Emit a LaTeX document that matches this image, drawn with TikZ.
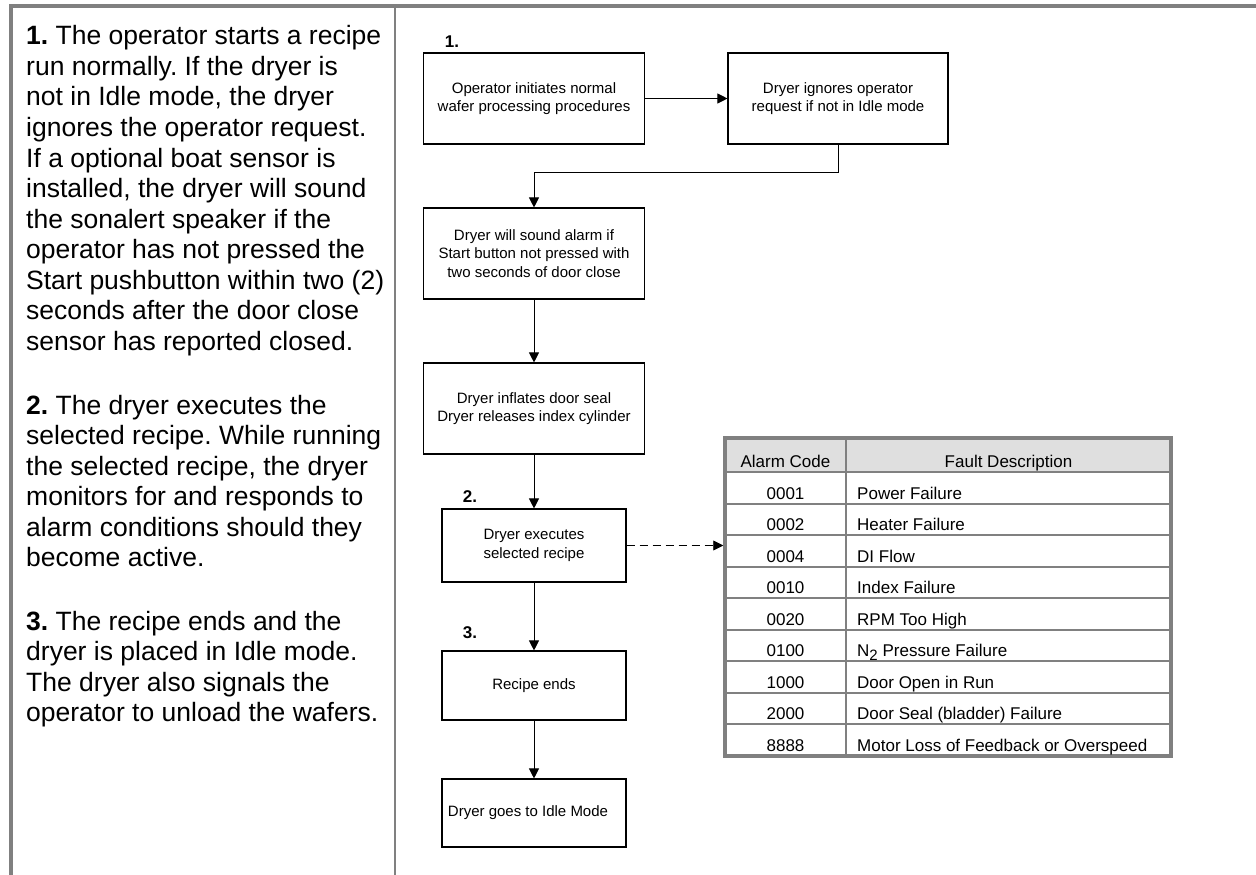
\documentclass[tikz,border=0pt]{standalone}
\usepackage{fontspec}
\setmainfont{Liberation Sans}
\usetikzlibrary{arrows.meta}
\frenchspacing

\definecolor{rulegray}{HTML}{808080}
\definecolor{headfill}{HTML}{DFDFDF}

\tikzset{
  frame/.style={draw=rulegray, line width=4pt},
  divider/.style={draw=rulegray, line width=2.5pt},
  bodytext/.style={inner sep=0pt, anchor=base west, font=\fontsize{26.5}{30.5}\selectfont},
  stepbox/.style={draw, line width=1.1pt, inner sep=0pt, align=center,
                  font=\fontsize{15}{18.5}\selectfont},
  steplabel/.style={inner sep=0pt, font=\bfseries\fontsize{17}{17}\selectfont},
  arr/.style={line width=0.9pt, -{Triangle[length=10pt,width=10pt]}},
  cell/.style={inner sep=0pt, anchor=base, font=\fontsize{17}{17}\selectfont},
  celltext/.style={inner sep=0pt, anchor=base west, font=\fontsize{17}{17}\selectfont},
  tblline/.style={draw=rulegray, line width=2pt},
  tblframe/.style={draw=rulegray, line width=3.5pt, inner sep=0pt,
                   minimum width=446pt, minimum height=318pt},
}

\begin{document}
\begin{tikzpicture}[x=1pt, y=-1pt]
\useasboundingbox (0,0) rectangle (1256,875);
\fill[white] (0,0) rectangle (1256,875);

% page frame and column divider
\draw[frame] (11,875) -- (11,6) -- (1256,6);
\draw[divider] (395,6) -- (395,875);

% description column
\foreach \t [count=\i from 0] in {
  {\textbf{1.} The operator starts a recipe},
  {run normally. If the dryer is},
  {not in Idle mode, the dryer},
  {ignores the operator request.},
  {If a optional boat sensor is},
  {installed, the dryer will sound},
  {the sonalert speaker if the},
  {operator has not pressed the},
  {Start pushbutton within two (2)},
  {seconds after the door close},
  {sensor has reported closed.}}
  \node[bodytext] (pa\i) at (26, 45+30.5*\i) {\t};

\foreach \t [count=\i from 0] in {
  {\textbf{2.} The dryer executes the},
  {selected recipe. While running},
  {the selected recipe, the dryer},
  {monitors for and responds to},
  {alarm conditions should they},
  {become active.}}
  \node[bodytext] (pb\i) at (26, 414+30.5*\i) {\t};

\foreach \t [count=\i from 0] in {
  {\textbf{3.} The recipe ends and the},
  {dryer is placed in Idle mode.},
  {The dryer also signals the},
  {operator to unload the wafers.}}
  \node[bodytext] (pc\i) at (26, 630+30.5*\i) {\t};

% flow chart
\node[stepbox, minimum width=221pt, minimum height=91pt] (b1) at (534,98.5)
  {Operator initiates normal\\wafer processing procedures};
\node[stepbox, minimum width=220pt, minimum height=91pt] (b2) at (838,98.5)
  {Dryer ignores operator\\request if not in Idle mode};
\node[stepbox, minimum width=221pt, minimum height=91pt] (b3) at (534,253.5)
  {Dryer will sound alarm if\\Start button not pressed with\\two seconds of door close};
\node[stepbox, minimum width=221pt, minimum height=91pt] (b4) at (534,408.5)
  {Dryer inflates door seal\\Dryer releases index cylinder};
\node[stepbox, minimum width=184pt, minimum height=73pt] (b5) at (534,545.5)
  {Dryer executes\\selected recipe};
\node[stepbox, minimum width=184pt, minimum height=69pt] (b6) at (534,685.5)
  {Recipe ends};
\node[stepbox, minimum width=184pt, minimum height=68pt] (b7) at (534,813)
  {\hspace*{-12pt}Dryer goes to Idle Mode};

\node[steplabel] (s1) at (452,42) {1.};
\node[steplabel] (s2) at (470,497) {2.};
\node[steplabel] (s3) at (470,633) {3.};

\draw[arr] (b1.east) -- (b2.west);
\draw[arr] (b2.south) -- ++(0,28) -| (b3.north);
\draw[arr] (b3.south) -- (b4.north);
\draw[arr] (b4.south) -- (b5.north);
\draw[arr] (b5.south) -- (b6.north);
\draw[arr] (b6.south) -- (b7.north);

% alarm table
\fill[headfill] (725,438) rectangle (1171,472);
\foreach \i in {0,...,8}
  \draw[tblline] (725,{472+31.56*\i}) -- (1171,{472+31.56*\i});
\draw[tblline] (846,438) -- (846,756);
\node[tblframe] (tbl) at (948,597) {};

\node[cell] (hc) at (785.5,467) {Alarm Code};
\node[cell] (hd) at (1008.5,467) {Fault Description};
\foreach \c/\d [count=\i from 0] in {
  0001/{Power Failure},
  0002/{Heater Failure},
  0004/{DI Flow},
  0010/{Index Failure},
  0020/{RPM Too High},
  0100/{N\raisebox{-4pt}{\fontsize{15}{15}\selectfont 2} Pressure Failure},
  1000/{Door Open in Run},
  2000/{Door Seal (bladder) Failure},
  8888/{Motor Loss of Feedback or Overspeed}}
{
  \node[cell] (code\i) at (785.5,{499+31.56*\i}) {\c};
  \node[celltext] (desc\i) at (857,{499+31.56*\i}) {\d};
}

\draw[arr, dashed, dash pattern=on 8pt off 5pt] (b5.east) -- (b5.east -| tbl.west);
\end{tikzpicture}
\end{document}
